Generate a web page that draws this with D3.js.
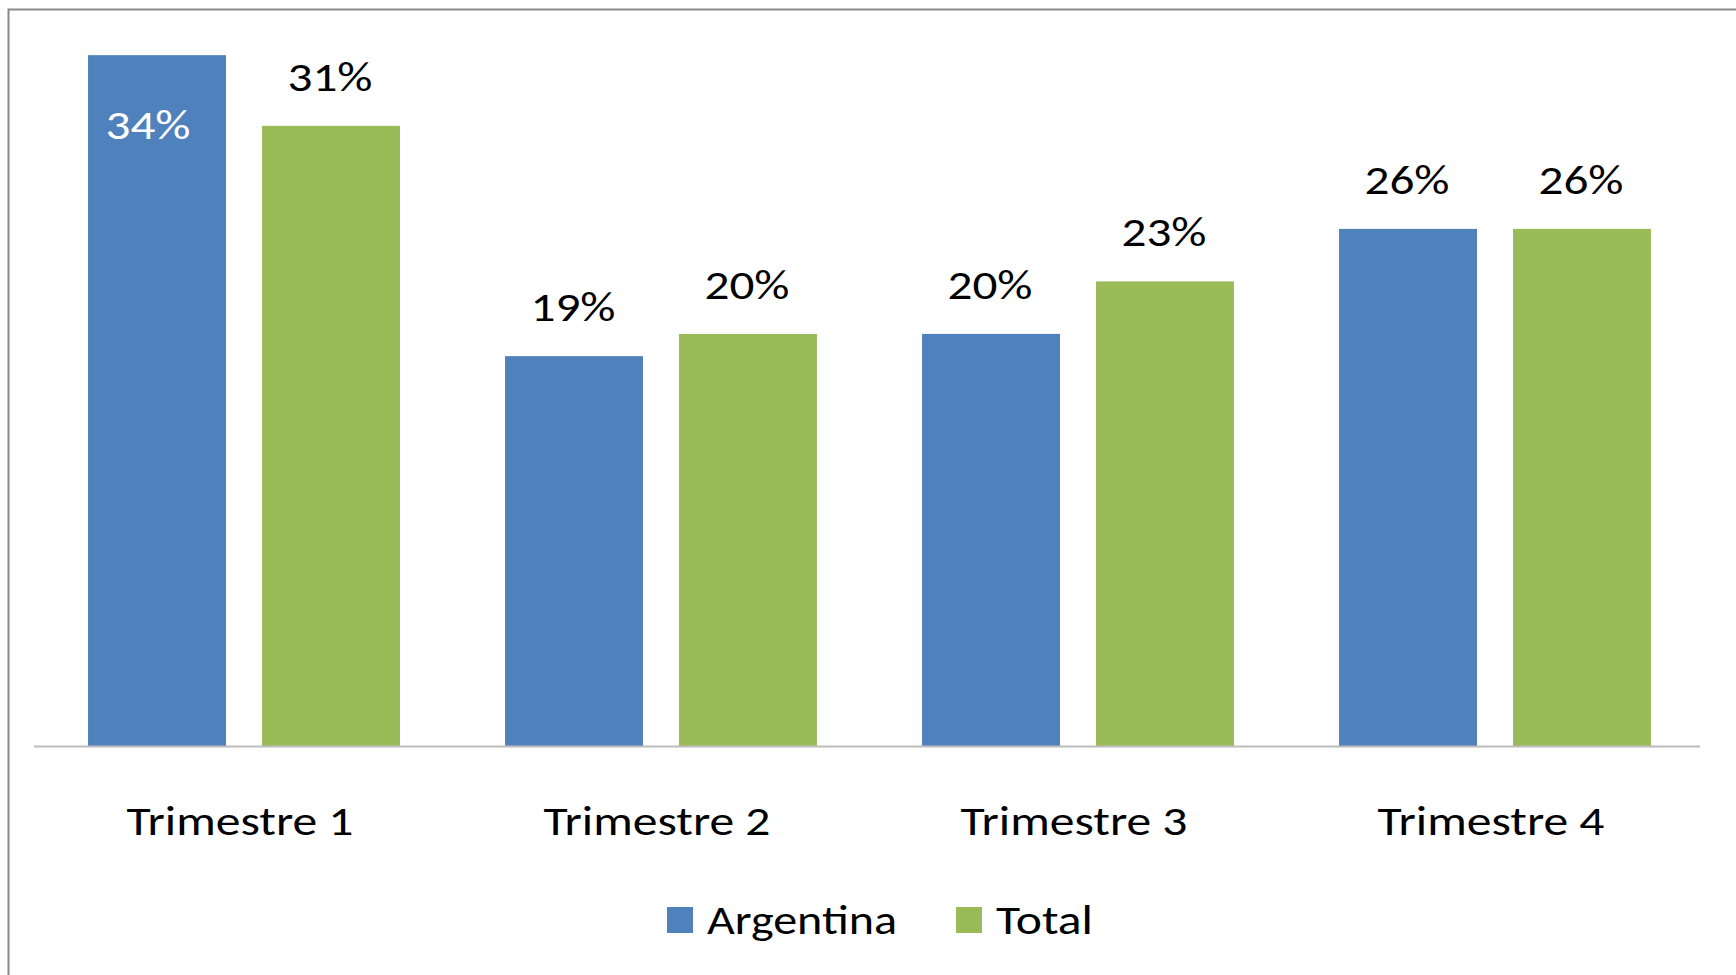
<!DOCTYPE html>
<html>
<head>
<meta charset="utf-8">
<script src="https://cdn.jsdelivr.net/npm/d3@7"></script>
<style>
  html, body { margin: 0; padding: 0; background: #fff; overflow: hidden; }
  svg text { font-family: Carlito, Calibri, "Open Sans", sans-serif; }
</style>
</head>
<body>
<div id="chart"></div>
<script>
// data
const categories = ["Trimestre 1", "Trimestre 2", "Trimestre 3", "Trimestre 4"]
const seriesNames = ["Argentina", "Total"]
const argentina = [0.342, 0.193, 0.204, 0.256]
const total = [0.307, 0.204, 0.230, 0.256]
const colors = ["#4F81BD", "#9BBB59"]

const width = 1736, height = 975
const margin = { top: 0, left: 35.5, right: 32.5 }
const baseY = 746
const pxPerUnit = 2020   // 20.2 px per percent

const rows = categories.map((c, i) => ({ cat: c, vals: [argentina[i], total[i]] }))

const x0 = d3.scaleBand()
  .domain(categories)
  .range([margin.left, width - margin.right])
  .paddingInner(0.252)
  .paddingOuter(0.126)

const x1 = d3.scaleBand()
  .domain(seriesNames)
  .range([0, x0.bandwidth()])
  .paddingInner(0.207)

const y = d3.scaleLinear()
  .domain([0, 0.36])
  .range([baseY, baseY - 0.36 * pxPerUnit])

const fmt = d3.format(".0%")

const svg = d3.select("#chart").append("svg")
  .attr("width", width)
  .attr("height", height)

// outer frame (runs off the right and bottom edge)
svg.append("rect")
  .attr("x", 8.5).attr("y", 9.5)
  .attr("width", width + 20).attr("height", height + 20)
  .attr("fill", "#fff")
  .attr("stroke", "#8a8a8a")
  .attr("stroke-width", 2)

const groups = svg.append("g").selectAll("g")
  .data(rows)
  .join("g")
  .attr("transform", d => `translate(${x0(d.cat)},0)`)

groups.selectAll("rect")
  .data(d => d.vals.map((v, j) => ({ key: seriesNames[j], v, j })))
  .join("rect")
  .attr("x", d => x1(d.key))
  .attr("y", d => y(d.v))
  .attr("width", x1.bandwidth())
  .attr("height", d => baseY - y(d.v))
  .attr("fill", d => colors[d.j])

// value labels; the first bar is too tall so its label sits inside
groups.selectAll("text.val")
  .data((d, i) => d.vals.map((v, j) => ({ key: seriesNames[j], v, j, inside: i === 0 && j === 0 })))
  .join("text")
  .attr("class", "val")
  .attr("x", d => x1(d.key) + x1.bandwidth() / 2 - (d.inside ? 9 : 1))
  .attr("y", d => d.inside ? y(d.v) + 84 : y(d.v) - 35)
  .attr("text-anchor", "middle")
  .attr("fill", d => d.inside ? "#fff" : "#000")
  .style("font-size", "40px")
  .attr("textLength", 85)
  .attr("lengthAdjust", "spacingAndGlyphs")
  .text(d => fmt(d.v))

// baseline
svg.append("line")
  .attr("x1", 34).attr("x2", 1700)
  .attr("y1", baseY + 0.5).attr("y2", baseY + 0.5)
  .attr("stroke", "#bcbcbc")
  .attr("stroke-width", 2)

// category axis labels
svg.append("g").selectAll("text")
  .data(categories)
  .join("text")
  .attr("x", d => x0(d) + x0.bandwidth() / 2 - 4)
  .attr("y", 835)
  .attr("text-anchor", "middle")
  .style("font-size", "41px")
  .attr("textLength", 227)
  .attr("lengthAdjust", "spacingAndGlyphs")
  .text(d => d)

// legend
const legendX = [667, 956]
const legendW = [190, 97]
const legend = svg.append("g").selectAll("g")
  .data(seriesNames)
  .join("g")
  .attr("transform", (d, i) => `translate(${legendX[i]},0)`)

legend.append("rect")
  .attr("x", 0).attr("y", 907)
  .attr("width", 26).attr("height", 26)
  .attr("fill", (d, i) => colors[i])

legend.append("text")
  .attr("x", 40).attr("y", 934)
  .style("font-size", "41px")
  .attr("textLength", (d, i) => legendW[i])
  .attr("lengthAdjust", "spacingAndGlyphs")
  .text(d => d)
</script>
</body>
</html>
